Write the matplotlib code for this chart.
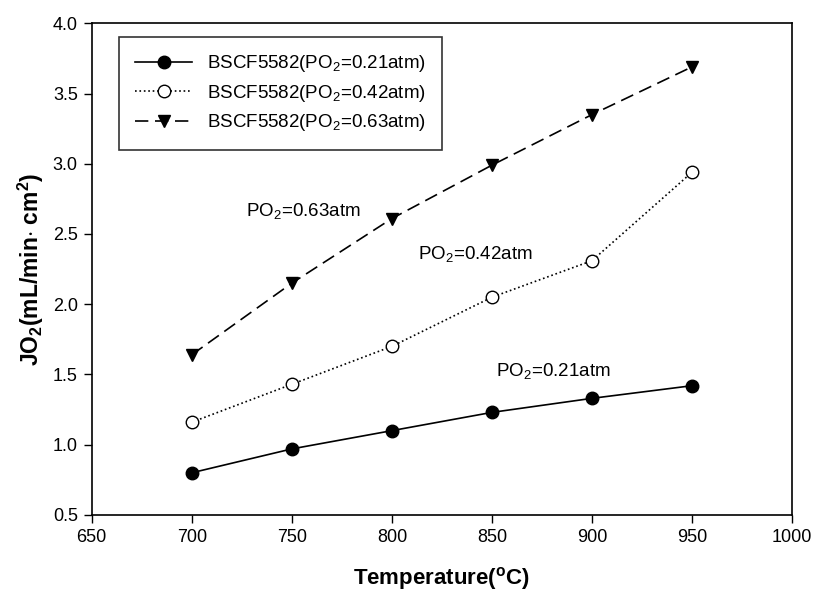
import matplotlib
matplotlib.use("Agg")
import matplotlib.pyplot as plt

plt.rcParams['font.family'] = ['Liberation Sans', 'DejaVu Sans']
plt.rcParams['mathtext.fontset'] = 'custom'
plt.rcParams['mathtext.rm'] = 'Liberation Sans'
plt.rcParams['mathtext.bf'] = 'Liberation Sans:bold'

temp = [700, 750, 800, 850, 900, 950]
jo2_021 = [0.80, 0.97, 1.10, 1.23, 1.33, 1.42]
jo2_042 = [1.16, 1.43, 1.70, 2.05, 2.31, 2.94]
jo2_063 = [1.64, 2.15, 2.61, 2.99, 3.35, 3.69]

fig = plt.figure(figsize=(8.26, 6.13), dpi=100)
ax = fig.add_axes([0.111, 0.160, 0.848, 0.802])

ax.plot(temp, jo2_021, '-', color='black', lw=1.2, marker='o', ms=9,
        mfc='black', mec='black', label=r'BSCF5582(PO$_2$=0.21atm)')
ax.plot(temp, jo2_042, ':', color='black', lw=1.2, marker='o', ms=9,
        mfc='white', mec='black', label=r'BSCF5582(PO$_2$=0.42atm)')
ax.plot(temp, jo2_063, '--', color='black', lw=1.2, marker='v', ms=9,
        mfc='black', mec='black', dashes=(8, 4), label=r'BSCF5582(PO$_2$=0.63atm)')

ax.text(727, 2.66, r'PO$_2$=0.63atm', fontsize=13.5, va='center')
ax.text(813, 2.35, r'PO$_2$=0.42atm', fontsize=13.5, va='center')
ax.text(852, 1.52, r'PO$_2$=0.21atm', fontsize=13.5, va='center')

ax.set_xlim(650, 1000)
ax.set_ylim(0.5, 4.0)
ax.set_xticks(range(650, 1001, 50))
ax.set_yticks([0.5, 1.0, 1.5, 2.0, 2.5, 3.0, 3.5, 4.0])
ax.set_yticklabels(['0.5', '1.0', '1.5', '2.0', '2.5', '3.0', '3.5', '4.0'])
ax.tick_params(direction='out', length=6, width=1, labelsize=13, pad=4,
               top=False, right=False)
for s in ax.spines.values():
    s.set_linewidth(1.2)

ax.set_xlabel(r'Temperature($^{\mathbf{o}}$C)', fontsize=16, fontweight='bold', labelpad=14)
ax.set_ylabel(r'JO$_\mathbf{2}$(mL/min$\cdot$ cm$^\mathbf{2}$)', fontsize=16.5,
              fontweight='bold', labelpad=5)

leg = ax.legend(loc='upper left', fontsize=13.5, frameon=True, fancybox=False,
                edgecolor='black', borderpad=0.9, handlelength=3.0,
                labelspacing=0.45, bbox_to_anchor=(0.025, 0.992))
leg.get_frame().set_linewidth(1.2)

fig.savefig('out.png', dpi=100)
